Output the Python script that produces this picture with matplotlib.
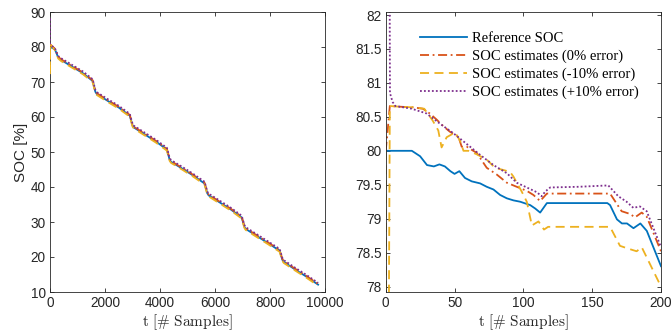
import matplotlib
matplotlib.use("Agg")
import matplotlib.pyplot as plt

# ---------------- data: full run (left panel) ----------------
t_full = [0, 1, 3, 20, 180, 300, 400, 800, 1200, 1550, 1650, 1700, 2100, 2500, 2900,
          3000, 3050, 3450, 3850, 4250, 4350, 4400, 4800, 5200, 5620, 5720, 5770,
          6170, 6570, 6970, 7070, 7120, 7520, 7920, 8350, 8450, 8500, 8900, 9300, 9750]
ref_full = [80, 80, 80, 80, 79.3, 77.0, 76.3, 74.4, 72.5, 70.3, 67.2, 66.6, 64.6, 62.7, 60.4,
            57.6, 57.0, 55.0, 53.0, 50.7, 47.8, 47.2, 45.3, 43.3, 41.0, 38.2, 37.6,
            35.6, 33.6, 31.3, 28.6, 28.0, 26.0, 24.0, 21.8, 19.2, 18.6, 16.5, 14.5, 12.1]
est0_full = [80, 80.7, 80.7, 80.65, 79.5, 77.2, 76.5, 74.6, 72.7, 70.5, 67.4, 66.8, 64.8, 62.9, 60.6,
             57.8, 57.2, 55.2, 53.2, 50.9, 48.0, 47.4, 45.5, 43.5, 41.2, 38.4, 37.8,
             35.8, 33.8, 31.5, 28.8, 28.2, 26.2, 24.2, 22.0, 19.4, 18.8, 16.7, 14.7, 12.3]
estm_full = [80, 72, 80.7, 80.65, 79.1, 76.7, 76.0, 74.1, 72.2, 70.0, 66.9, 66.3, 64.3, 62.4, 60.1,
             57.3, 56.7, 54.7, 52.7, 50.4, 47.5, 46.9, 45.0, 43.0, 40.7, 37.9, 37.3,
             35.3, 33.3, 31.0, 28.3, 27.7, 25.7, 23.7, 21.5, 18.9, 18.3, 16.2, 14.2, 11.8]
estp_full = [88, 88, 80.8, 80.65, 79.6, 77.4, 76.8, 74.9, 73.0, 70.8, 67.7, 67.1, 65.1, 63.2, 60.9,
             58.1, 57.5, 55.5, 53.5, 51.2, 48.3, 47.7, 45.8, 43.8, 41.5, 38.7, 38.1,
             36.1, 34.1, 31.8, 29.1, 28.5, 26.5, 24.5, 22.3, 19.7, 19.1, 17.0, 15.0, 12.6]

# ---------------- data: first 200 samples (right panel) ----------------
s_ref = [0, 19, 25, 30, 35, 39, 43, 47, 50, 53.5, 57.6, 62.5, 68.6, 73.4, 78.3, 83.1, 88,
         92.8, 97.7, 105, 108.6, 112.2, 117.1, 161, 163, 168, 171.6, 175.3, 180, 185, 189.7, 200]
v_ref = [80.0, 80.0, 79.92, 79.79, 79.77, 79.8, 79.77, 79.7, 79.66, 79.7, 79.6, 79.55, 79.52,
         79.47, 79.43, 79.35, 79.3, 79.27, 79.25, 79.2, 79.15, 79.09, 79.23, 79.23, 79.2, 78.99,
         78.93, 78.93, 78.86, 78.93, 78.82, 78.3]

s_e0 = [0, 1, 3, 10, 20, 27, 32, 37, 42, 46.7, 50, 52.8, 55.2, 58.9, 62, 66.1, 73.4, 80.7, 88,
        95.2, 102.5, 107.3, 112.2, 117.1, 163, 171.4, 177.5, 181.1, 186, 189.6, 200]
v_e0 = [80.0, 80.2, 80.66, 80.65, 80.64, 80.62, 80.55, 80.46, 80.36, 80.28, 80.24, 80.21, 80.06,
        80.06, 80.02, 79.97, 79.75, 79.65, 79.53, 79.47, 79.41, 79.35, 79.26, 79.37, 79.37,
        79.11, 79.07, 79.02, 79.09, 79.03, 78.52]

s_em = [0, 1, 3, 10, 20, 28, 34, 38.2, 40.6, 44.3, 50.4, 54, 56.5, 60.1, 66, 73.4, 79.4, 85,
        90.3, 92.8, 98.8, 102.5, 106.2, 111, 115, 118, 163, 170.2, 176, 182.3, 186, 200]
v_em = [80.0, 72.0, 80.66, 80.65, 80.64, 80.62, 80.45, 80.3, 80.05, 80.2, 80.27, 80.15, 80.0,
        80.0, 79.95, 79.87, 79.75, 79.72, 79.69, 79.62, 79.4, 79.25, 78.9, 78.96, 78.84, 78.88,
        78.88, 78.6, 78.56, 78.52, 78.58, 78.0]

s_ep = [0, 2, 3.1, 5, 7, 18.9, 29.7, 39.4, 49.1, 58.9, 68.6, 78.3, 88, 95.2, 102.5, 109.8, 113.3,
        115.9, 119.5, 140, 161.7, 169, 175, 179.9, 184.7, 189.6, 200]
v_ep = [88.0, 88.0, 80.85, 80.72, 80.66, 80.62, 80.55, 80.4, 80.26, 80.1, 79.94, 79.79, 79.67,
        79.53, 79.46, 79.39, 79.33, 79.4, 79.46, 79.47, 79.49, 79.33, 79.25, 79.16, 79.18,
        79.11, 78.58]

labels = ["Reference SOC", "SOC estimates (0% error)",
          "SOC estimates (-10% error)", "SOC estimates (+10% error)"]

# ---------------- styling ----------------
c_ref, c_e0, c_em, c_ep = "#0072BD", "#D95319", "#EDB120", "#7E2F8E"
axcol = "#262626"
plt.rcParams["mathtext.fontset"] = "cm"
plt.rcParams["font.family"] = ["Liberation Sans", "DejaVu Sans"]

fig = plt.figure(figsize=(6.72, 3.36), dpi=100)
ax1 = fig.add_axes([50 / 672, 44 / 336, 275 / 672, 280 / 336])
ax2 = fig.add_axes([385.7 / 672, 44 / 336, 275.3 / 672, 280 / 336])

lw = 1.3
def draw(ax, xr, yr, x0, y0, xm, ym, xp, yp, z):
    ax.plot(xr, yr, color=c_ref, lw=lw, ls="-", label=labels[0], zorder=z)
    ax.plot(x0, y0, color=c_e0, lw=lw, ls=(0, (5, 2, 1, 2)), label=labels[1], zorder=z)
    ax.plot(xm, ym, color=c_em, lw=lw, ls=(0, (5, 3)), label=labels[2], zorder=z)
    ax.plot(xp, yp, color=c_ep, lw=lw, ls=(0, (1, 1.2)), label=labels[3], zorder=z)

draw(ax1, t_full, ref_full, t_full, est0_full, t_full, estm_full, t_full, estp_full, 3)
draw(ax2, s_ref, v_ref, s_e0, v_e0, s_em, v_em, s_ep, v_ep, 2)

ax1.set_xlim(0, 10000)
ax1.set_ylim(10, 90)
ax1.set_xticks([0, 2000, 4000, 6000, 8000, 10000])
ax1.set_yticks(range(10, 91, 10))
ax1.set_ylabel("SOC [%]", fontsize=11, color=axcol, labelpad=2)

ax2.set_xlim(0, 200)
ax2.set_ylim(77.92, 82.045)
ax2.set_xticks([0, 50, 100, 150, 200])
ax2.set_yticks([78, 78.5, 79, 79.5, 80, 80.5, 81, 81.5, 82])
ax2.set_yticklabels(["78", "78.5", "79", "79.5", "80", "80.5", "81", "81.5", "82"])

for ax in (ax1, ax2):
    ax.set_xlabel(r"$\mathrm{t\ [\#\ Samples]}$", fontsize=11, color=axcol, labelpad=1.5)
    ax.tick_params(direction="in", top=True, right=True, length=3, width=0.6,
                   labelsize=9.8, colors=axcol, pad=3)
    for sp in ax.spines.values():
        sp.set_color(axcol)
        sp.set_linewidth(0.6)

leg = ax2.legend(loc="upper left", bbox_to_anchor=(0.088, 0.965), frameon=False,
                 prop={"family": "Liberation Serif", "size": 10.5},
                 handlelength=3.2, handletextpad=0.35, labelspacing=0.3, borderpad=0.2)

fig.savefig("out.png", dpi=100)
